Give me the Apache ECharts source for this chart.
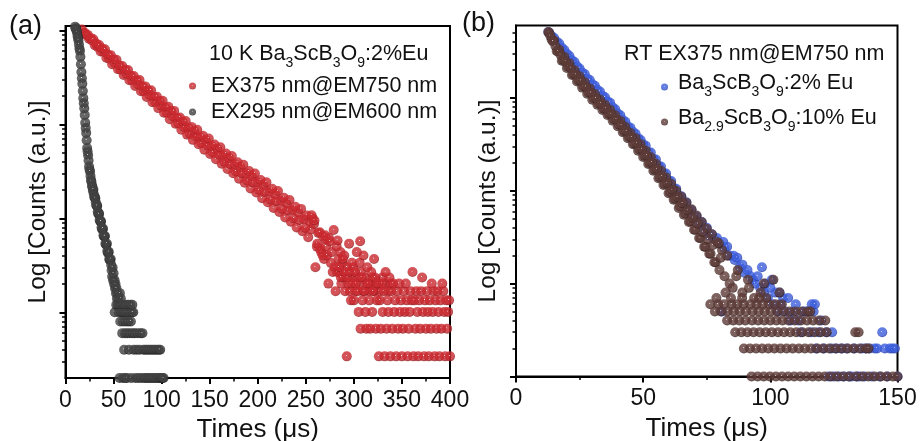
<!DOCTYPE html>
<html><head><meta charset="utf-8">
<script src="https://cdn.jsdelivr.net/npm/echarts@6/dist/echarts.min.js"></script>
<style>html,body{margin:0;padding:0;background:#fff}#c{width:921px;height:441px}</style>
</head><body><div id="c"></div>
<script>
// ---------------- data (time in µs, intensity in a.u.) ----------------
const redDecay = [
[17,10230],[18.5,9460],[20,9410],[21.5,8910],[23,8950],[24.5,8130],[26,8320],[27.5,7820],[29,8040],[30.5,6960],[32,7230],[33.5,6650],[35,6980],[36.5,5960],[38,6420],[39.5,5910],[41,6310],[42.5,5120],[44,5520],[45.5,5000],[47,5450],[48.5,4365],[50,4925],[51.5,4480],[53,4860],[54.5,3870],[56,4240],[57.5,3820],[59,4180],[60.5,3360],[62,3820],[63.5,3450],[65,3790],[66.5,2950],[68,3280],[69.5,2930],[71,3260],[72.5,2565],[74,2945],[75.5,2660],[77,2960],[78.5,2250],[80,2540],[81.5,2250],[83,2535],[84.5,1955],[86,2290],[87.5,2055],[89,2305],[90.5,1718],[92,1963],[93.5,1726],[95,1972],[96.5,1489],[98,1774],[99.5,1581],[101,1782],[102.5,1327],[104,1514],[105.5,1330],[107,1535],[108.5,1135],[110,1376],[111.5,1218],[113,1390],[114.5,1013],[116,1174],[117.5,1023],[119,1183],[120.5,875],[122,1067],[123.5,938],[125,1086],[126.5,778],[128,916],[129.5,796],[131,940],[132.5,684],[134,845],[135.5,746],[137,877],[138.5,615],[140,734],[141.5,632],[143,757],[144.5,538],[146,679],[147.5,595],[149,708],[150.5,484],[152,587],[153.5,502],[155,610],[156.5,425],[158,545],[159.5,474],[161,570],[162.5,382],[164,470],[165.5,399],[167,490],[168.5,335],[170,437],[171.5,377],[173,460],[174.5,302],[176,377],[177.5,316],[179,394],[180.5,264],[182,350],[183.5,301],[185,372],[186.5,239],[188,301],[189.5,251],[191,318],[192.5,208],[194,281],[195.5,240],[197,300],[198.5,188],[200,241],[201.5,200],[203,255],[204.5,164],[206,225],[207.5,191],[209,242],[210.5,148],[212,193],[213.5,158],[215,206],[216.5,129],[218,181],[219.5,152],[221,195],[222.5,117],[224,154],[225.5,126],[227,166],[228.5,102],[230,145],[231.5,121],[233,157],[234.5,92],[236,123],[237.5,100],[239,133],[240.5,80],[242,116],[243.5,96],[245,126],[246.5,73],[248,98],[249.5,79],[251,107],[252.5,63],[254,93],[255.5,76],[257,100],
[256,108],[258.5,87],[259,95],[260,30.2],[261.5,50],[262,53.8],[263,70],[264.5,71],[265,47],[266,43.7],[267.5,40.3],[268,64],[269,37],[270,66],[270.5,60],[271,50.4],[272,40.3],[273.5,20.2],[274,62],[275,57],[276,33.6],[277,43.7],[278,26.9],[279,75],[280,30.2],[281,16.8],[282,50.4],[283,58],[284,37],[285,26.9],[286,43.7],[287,20.2],[288,33.6],[289,23.5],[290,40.3],[291,16.8],[292.6,3.4],[293,30.2],[294,20.2],[295,53.8],[296,16.8],[297,13.4],[298,33.6],[299,23.5],
[282.5,26.9],[284.5,30.2],[286.5,23.5],[288.5,37],[290.5,26.9],[293.5,23.5],[295.5,26.9],[297.5,20.2],[299.5,30.2],[301.5,16.8],[303.5,23.5],[305.5,20.2],[307.5,26.9],[309.5,16.8],[311.5,23.5],[313.5,20.2],[315.5,16.8],[317.5,20.2],[319.5,23.5],[321.5,16.8],[323.5,20.2],[326.5,16.8],[329.5,23.5],[332.5,20.2],[335.5,16.8],[338.5,20.2],
[300,13.4],[301,26.9],[302,20.2],[303,43.7],[304,16.8],[305,10.1],[306,33.6],[306.5,57],[307,6.7],[308,23.5],[309,13.4],[310,40.3],[311,16.8],[312,10.1],[313,6.7],[314,30.2],[315,20.2],[316,13.4],[317,6.7],[318,26.9],[319,10.1],[320,16.8],[321,37],[322,23.5],[323,6.7],[324,13.4],[325,20.2],
[326,3.4],[327,13.4],[328,6.7],[329,20.2],[330,10.1],[331,16.8],[332,3.4],[333,26.9],[334,6.7],[335,13.4],[336,10.1],[337,23.5],[338,3.4],[339,16.8],[340,6.7],[341,20.2],[342,10.1],[343,13.4],[344,3.4],[345,16.8],[346,6.7],[347,20.2],[348,10.1],[349,13.4],[350,3.4],[351,6.7],[352,16.8],[353,10.1],[354,20.2],[355,13.4],[356,3.4],[357,6.7],[358,10.1],[359,16.8],[360,13.4],[361,26.9],
[362,3.4],[363,13.4],[364,6.7],[365,16.8],[366,10.1],[367,3.4],[368,13.4],[369,6.7],[370,16.8],[371,23.5],[372,10.1],[373,3.4],[374,13.4],[375,6.7],[376,16.8],[377,10.1],[378,3.4],[379,13.4],[380,6.7],[381,20.2],[382,10.1],[383,16.8],[384,3.4],[385,13.4],[386,6.7],[387,16.8],[388,10.1],[389,3.4],[390,13.4],[391,6.7],[392,20.2],[393,16.8],[394,10.1],[395,3.4],[396,13.4],[397,6.7],[398,10.1],[399,13.4],[400,3.4]
];
const grayDecay = [
[10,10960],[10.5,10500],[11,10470],[11.5,9900],[12,9550],[12.5,8700],[13,8320],[13.5,7800],[14,7080],[14.5,6400],[15,6030],[15.5,5250],[16,4365],[16.5,3600],[17,3090],[17.5,2700],[18,2265],[18.5,1900],[19,1680],[19.5,1480],[20,1260],[20.5,1040],[21,912],[21.5,810],[22,676],[22.5,560],[23,513],[23.5,470],[24,412],[24.5,355],[25,331],[25.5,315],[26,282],[26.5,255],[27,245],[27.5,222],
[28,216],[28.5,196],[29,203],[29.5,180],[30,168],[30.5,166],[31,164],[31.5,148],[32,138],[32.5,136],[33,136],[33.5,118],[34,112],[34.5,113],[35,111],[35.5,96],[36,94],[36.5,92],[37,93],[37.5,80],[38,77],[38.5,76],[39,78],[39.5,66],[40,64],[40.5,64],[41,65],[41.5,54],[42,53],[42.5,52],[43,54],[43.5,45],[44,43],[44.5,43],[45,44],[45.5,37],[46,36],[46.5,36],[47,37],[47.5,32],
[48,28],[48.5,24],[49,30],[49.5,22],[50,26],[50.5,20],[51,22],[51.2,10],[51.5,18],[52,20],[52.5,16],[52.8,12],[53,18],[53.5,14],[54,16],[54.5,12],[55,14],[55.5,10],[56,12],[56.2,2],[56.5,16],[57,8],[57.5,14],[58,10],[58.5,12],[59,6],[59.5,10],[59.7,2],[60,8],[60.5,12],[61,4],[61.5,10],[62,6],[62.2,2],[62.5,12],[63,8],[63.5,10],[64,2],[64.5,6],[65,12],[65.5,8],[66,4],[66.5,10],[67,6],[67.5,12],[68,8],[68.5,2],[69,10],[69.5,12],[70,6],[70.5,10],[71,4],[72,6],[73,2],[74,4],[75,6],[76,2],[77,4],[78,6],[79,2],[80,6],[81,4],[82,2],[83,4],[84,2],[85,4],[86,2],[87,4],[88,2],[89,4],[90,2],[91,4],[92,2],[93,4],[94,2],[95,4],[96,2],[97,4],[98,2],[98.5,4],[99,2],[100,2],[101,2],[102,2]
];
const blueDecay = [
[12.7,5100],[13,5010],[14,4620],[15,4400],[16,4020],[17,3840],[18,3460],[19,3270],[20,2980],[21,2820],[22,2530],[23,2430],[24,2180],[25,2070],[26,1870],[27,1800],[28,1610],[29,1550],[30,1400],[31,1350],[32,1220],[33,1165],[34,1050],[35,1015],[36,915],[37,885],[38,790],[39,752],[40,678],[41,648],[42,577],[43,552],[44,490],[45,476],[46,428],[47,410],[48,368],[49,352],[50,316],[51,304],[52,260],[53,258],[54,220],[55,216],[56,185],[57,182],[58,155],[59,153],[60,128],[61,127],[62,106],[63,105],[64,88],[65,87],[66,74],[67,75],[68,62],[69,62],[70,52],[71,53],[72,45],[73,46],[74,38],[75,40],[76,33],[77,34],[78,30],[79,31],[80,27],[81,5],[81.5,28],[82,24],[83,25],[84,20],[85.5,20],[86,18],[87,19],[88,15],[89,16],[90,13],[91,14],[92.2,12],[93,11],[94,10],[95,12],[96,9],[96.7,15],[97.5,8],[98,10],[99,7],[100,9],[100.6,11],[101,6],[102,8],[103,5],[103.6,8],[104,6],[105,7],[106,5],[107,7],[108,4],[109,5],[110,6],[111,4],[112,3],[113,5],[114,5],[115,5],[116,3],[116.3,6],[117,5],[117.5,6],[118,2],[119,3],[120,4],[121,2],[122,3],[123,1],[124,2],[124.3,3],[125,1],[126,2],[127,1],[128,2],[129,1],[130,2],[131,1],[132,1],[133,2],[134,1],[135,1],[136,2],[137,1],[137.5,2],[139,2],[140,1],[141,2],[142,2],[143,1],[144,3],[145,2],[146,1],[147,2],[148,2],[149,2],[150,1]
];
const brownDecay = [
[12.7,5100],[13,5010],[14,4240],[15,4100],[16,3190],[17,3290],[18,2510],[19,2760],[20,2090],[21,2350],[22,1756],[23,1978],[24,1495],[25,1703],[26,1287],[27,1466],[28,1108],[29,1262],[30,954],[31,1099],[32,840],[33,958],[34,740],[35,844],[36,653],[37,743],[38,568],[39,648],[40,495],[41,564],[42,426],[43,485],[44,367],[45,418],[46,316],[47,368],[48,269],[49,317],[50,231],[51,269],[52,194],[53,229],[54,164],[55,195],[56,136],[57,165],[58,115],[59,139],[60,94],[61,119],[62,80],[63,100],[64,65],[65,86],[66,55],[67,74],[68,46],[69,63],[70,38],[71,54],[72,31],[73,46],[74,25],[75,39],[76,21],[77,34],[78,17],[79,28],[80,14],[81,23],
[13.5,4640],[14.5,4050],[15.5,3610],[16.5,3150],[17.5,2900],[18.5,2560],[19.5,2450],[20.5,2170],[21.5,2095],[22.5,1804],[23.5,1774],[24.5,1545],[25.5,1527],[26.5,1329],[27.5,1314],[28.5,1144],[29.5,1132],[30.5,992],[31.5,991],[32.5,868],[33.5,868],[34.5,765],[35.5,765],[36.5,674],[37.5,670],[38.5,588],[39.5,584],[40.5,512],[41.5,509],[42.5,438],[43.5,438],[44.5,378],[45.5,377],[46.5,323],[47.5,326],[48.5,278],[49.5,281],[50.5,238],[51.5,239],[52.5,199],[53.5,201],[54.5,168],[55.5,171],[56.5,140],[57.5,143],[58.5,118],[59.5,121],[60.5,97],[61.5,102],[62.5,82],[63.5,85],[64.5,68],[65.5,73],[66.5,57],[67.5,61],[68.5,47],[69.5,51],[70.5,38],[71.5,44],[72.5,31],[73.5,36],[74.5,25],[75.5,30],[76.5,21],[77.5,26],[78.5,17],[79.7,27],[80.5,19],
[82,12],[83,20],[84,10],[85.2,9],[86.6,12],[87.2,14],[89,8],[91.2,11],[91.6,9],[96.2,8],[97.5,10],[101.2,11],[103.6,8],[82.4,8],
[78.8,7],[84.5,7],[88.9,7],[93.6,7],[95.6,7],[98.4,7],
[76.4,6],[79.5,6],[81.8,6],[84.8,6],[87.0,6],[89.5,6],[92.2,6],[94.6,6],[97.0,6],[99.5,6],[102.0,6],[104.5,6],
[78.2,5],[80.6,5],[83.2,5],[85.6,5],[88.0,5],[90.4,5],[93.0,5],[95.4,5],[97.8,5],[100.2,5],[102.6,5],[105.2,5],[107.6,5],[110.0,5],[112.4,5],[114.8,5],[115.7,5],
[83.0,4],[85.4,4],[87.8,4],[90.2,4],[92.8,4],[95.2,4],[97.6,4],[100.0,4],[102.4,4],[104.8,4],[107.2,4],[109.6,4],[112.0,4],[114.4,4],[116.8,4],[119.2,4],[121.6,4],
[86.2,3],[88.6,3],[91.0,3],[93.4,3],[95.8,3],[98.2,3],[100.6,3],[103.0,3],[105.4,3],[107.8,3],[110.2,3],[112.6,3],[115.0,3],[117.4,3],[119.8,3],[122.2,3],[133.4,3],[134.7,3],
[89.6,2],[92.0,2],[94.4,2],[96.8,2],[99.2,2],[101.6,2],[104.0,2],[106.4,2],[108.8,2],[111.2,2],[113.6,2],[116.0,2],[118.4,2],[120.8,2],[123.2,2],[125.6,2],[128.0,2],[130.4,2],[132.8,2],[135.2,2],[137.6,2],[138.6,2],
[92.6,1],[95.0,1],[97.4,1],[99.8,1],[102.2,1],[104.6,1],[107.0,1],[109.4,1],[111.8,1],[114.2,1],[116.6,1],[119.0,1],[121.4,1],[123.8,1],[126.2,1],[128.6,1],[131.0,1],[133.8,1],[136.2,1],[138.6,1],[141.0,1],[143.4,1],[145.8,1],[148.2,1],[150,1]
];
const xMaxA = 400, xStepA = 50, xMaxB = 150, xStepB = 50;
const yRangeA = [2, 11130], yRangeB = [1, 6000];
const majorTicksA = [10, 100, 1000, 10000];
const minorTicksA = [3,4,5,6,7,8,9,20,30,40,50,60,70,80,90,200,300,400,500,600,700,800,900,2000,3000,4000,5000,6000,7000,8000,9000];
const majorTicksB = [1, 10, 100, 1000];
const minorTicksB = [2,3,4,5,6,7,8,9,20,30,40,50,60,70,80,90,200,300,400,500,600,700,800,900,2000,3000,4000,5000];
const legendA = ['EX375 nm@EM750 nm', 'EX295 nm@EM600 nm'];
const legendB = ['Ba3ScB3O9:2% Eu', 'Ba2.9ScB3O9:10% Eu'];
const richNames = {
  'Ba3ScB3O9:2% Eu': '{m|Ba}{s|3}{m|ScB}{s|3}{m|O}{s|9}{m|:2% Eu}',
  'Ba2.9ScB3O9:10% Eu': '{m|Ba}{s|2.9}{m|ScB}{s|3}{m|O}{s|9}{m|:10% Eu}'
};
const headA = '{m|10 K Ba}{s|3}{m|ScB}{s|3}{m|O}{s|9}{m|:2%Eu}';
const headB = 'RT EX375 nm@EM750 nm';

// ---------------- chart ----------------
const FONT = 'Liberation Sans';
const rich = {
  m: {fontSize: 21.5, fontFamily: FONT, fontWeight: 'normal', color: '#111', lineHeight: 24, padding: [0, 0, 5, 0], verticalAlign: 'bottom'},
  s: {fontSize: 14, fontFamily: FONT, fontWeight: 'normal', color: '#111', lineHeight: 15, verticalAlign: 'bottom'}
};
function ball(c, dark) {
  return new echarts.graphic.RadialGradient(0.45, 0.42, 0.5, [
    {offset: 0, color: '#ffffff'}, {offset: 0.16, color: c}, {offset: 0.85, color: c}, {offset: 1, color: dark}
  ]);
}
function xAxis(grid, max, step) {
  return {
    gridIndex: grid, type: 'value', min: 0, max: max, interval: step,
    axisLine: {show: true, onZero: false, lineStyle: {color: '#000', width: 2}},
    axisTick: {show: true, length: 6, lineStyle: {color: '#000', width: 2}},
    minorTick: {show: true, splitNumber: 2, length: 3.5, lineStyle: {color: '#000', width: 1.5}},
    splitLine: {show: false},
    axisLabel: {fontSize: 23, color: '#111', fontFamily: FONT, margin: 11},
    name: 'Times (\u03bcs)', nameLocation: 'middle', nameGap: 35,
    nameTextStyle: {fontSize: 26, color: '#111', fontFamily: FONT}
  };
}
function yAxis(grid, range, majors) {
  return {
    gridIndex: grid, type: 'log', logBase: 10, min: range[0], max: range[1], position: 'left',
    axisLine: {show: true, lineStyle: {color: '#000', width: 2}},
    axisTick: {show: true, length: 6, customValues: majors, lineStyle: {color: '#000', width: 2}},
    splitLine: {show: false},
    axisLabel: {show: false},
    name: 'Log [Counts (a.u.)]', nameLocation: 'middle', nameGap: 15,
    nameTextStyle: {fontSize: 24.5, color: '#111', fontFamily: FONT}
  };
}
function yMinor(grid, range, minors) {
  return {
    gridIndex: grid, type: 'log', logBase: 10, min: range[0], max: range[1], position: 'left', offset: 0,
    axisLine: {show: false},
    axisTick: {show: true, length: 3.5, customValues: minors, lineStyle: {color: '#000', width: 1.5}},
    splitLine: {show: false}, axisLabel: {show: false}
  };
}
function scatter(name, xi, data, c, dark) {
  return {
    type: 'scatter', name: name, xAxisIndex: xi, yAxisIndex: xi, data: data,
    symbol: 'circle', symbolSize: 10, silent: true,
    itemStyle: {color: ball(c, dark)}
  };
}
const chart = echarts.init(document.getElementById('c'), null, {renderer: 'canvas'});
chart.setOption({
  animation: false,
  backgroundColor: '#fff',
  textStyle: {fontFamily: FONT},
  grid: [
    {left: 65.5, right: 471, top: 26, bottom: 63, outerBoundsMode: 'none', containLabel: false, show: true, borderColor: '#000', borderWidth: 2},
    {left: 516, right: 23.5, top: 25.5, bottom: 64.5, outerBoundsMode: 'none', containLabel: false, show: true, borderColor: '#000', borderWidth: 2}
  ],
  xAxis: [xAxis(0, xMaxA, xStepA), xAxis(1, xMaxB, xStepB)],
  yAxis: [yAxis(0, yRangeA, majorTicksA), yAxis(1, yRangeB, majorTicksB),
          yMinor(0, yRangeA, minorTicksA), yMinor(1, yRangeB, minorTicksB)],
  title: [
    {text: headA, left: 209, top: 46, padding: 0, textStyle: {fontWeight: 'normal', rich: rich}},
    {text: headB, left: 624, top: 43, padding: 0, textStyle: {fontSize: 21.5, fontWeight: 'normal', color: '#111', fontFamily: FONT}},
    {text: '(a)', left: 9, top: 13, padding: 0, textStyle: {fontSize: 27, fontWeight: 'normal', color: '#111', fontFamily: FONT}},
    {text: '(b)', left: 462, top: 10, padding: 0, textStyle: {fontSize: 27, fontWeight: 'normal', color: '#111', fontFamily: FONT}}
  ],
  legend: [
    {data: legendA, orient: 'vertical', left: 189, top: 75, padding: 0, itemGap: 4,
     itemWidth: 27, itemHeight: 7, icon: 'circle', selectedMode: false,
     textStyle: {fontSize: 21.5, color: '#111', fontFamily: FONT}},
    {data: legendB, orient: 'vertical', left: 661, top: 72, padding: 0, itemGap: 8,
     itemWidth: 17, itemHeight: 7, icon: 'circle', selectedMode: false,
     formatter: function (n) { return richNames[n] || n; },
     textStyle: {fontSize: 21.5, color: '#111', fontFamily: FONT, rich: rich}}
  ],
  series: [
    scatter(legendA[0], 0, redDecay, '#c9282e', '#9e1d22'),
    scatter(legendA[1], 0, grayDecay, '#404040', '#262626'),
    scatter(legendB[0], 1, blueDecay, '#3c5ddc', '#2a43b0'),
    scatter(legendB[1], 1, brownDecay, '#5c3a36', '#3d2522')
  ]
});
</script></body></html>
